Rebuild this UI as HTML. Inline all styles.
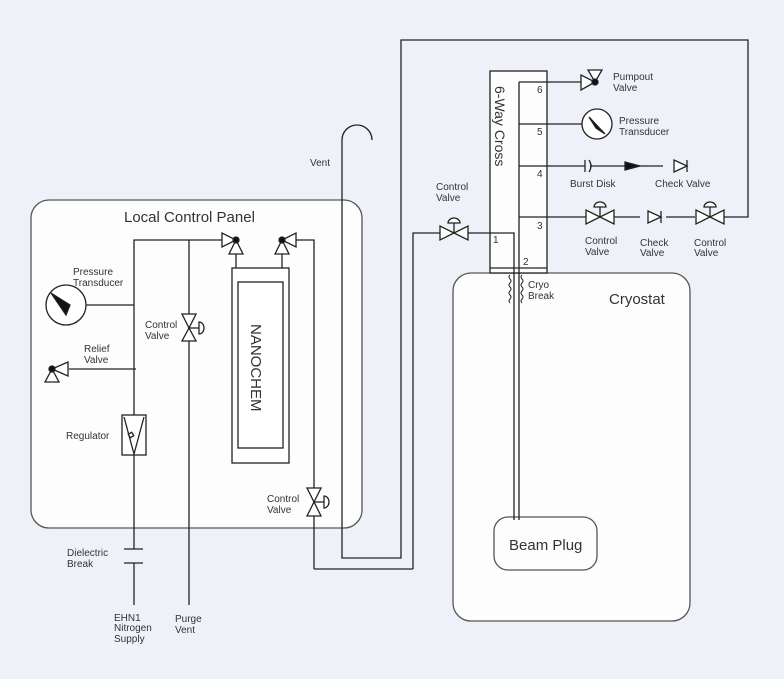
<!DOCTYPE html>
<html><head><style>
html,body{margin:0;padding:0;background:#eef2f8;}
svg{display:block;font-family:"Liberation Sans",sans-serif;}
text{fill:#333;font-size:10px;}
</style></head><body>
<svg width="784" height="679" viewBox="0 0 784 679" xmlns="http://www.w3.org/2000/svg">
<rect width="784" height="679" fill="#eef2f8"/>
<g stroke="#222" stroke-width="1.3" fill="none">
<!-- panels -->
<rect x="31" y="200" width="331" height="328" rx="18" fill="#fdfdfd" stroke="#555"/>
<rect x="453" y="273" width="237" height="348" rx="18" fill="#fdfdfd" stroke="#555"/>
<rect x="494" y="517" width="103" height="53" rx="14" fill="#fdfdfd" stroke="#555"/>
<!-- 6-way cross -->
<rect x="490" y="71" width="57" height="202" fill="#fdfdfd"/>
<line x1="519" y1="82" x2="519" y2="268"/>
<line x1="490" y1="268" x2="547" y2="268"/>
<line x1="519" y1="82" x2="582" y2="82"/>
<line x1="519" y1="124" x2="582" y2="124"/>
<line x1="519" y1="166" x2="585" y2="166"/>
<line x1="519" y1="217" x2="585" y2="217"/>
<!-- port1 -->
<polyline points="413,569 413,233 440,233"/>
<polyline points="468,233 514,233 514,520"/>
<line x1="519" y1="268" x2="519" y2="520"/>
<!-- cryo break coils -->
<path d="M510,275 q-2,2 0,4 q2,2 0,4 q-2,2 0,4 q2,2 0,4 q-2,2 0,4 q2,2 0,4 q-2,2 0,4" stroke-width="1"/>
<path d="M522,275 q-2,2 0,4 q2,2 0,4 q-2,2 0,4 q2,2 0,4 q-2,2 0,4 q2,2 0,4 q-2,2 0,4" stroke-width="1"/>
<!-- big loop -->
<polyline points="723,217 748,217 748,40 401,40 401,558 342,558 342,140"/>
<path d="M342,140 A15,15 0 0 1 372,140"/>
<polyline points="314,569 413,569"/>
<!-- port 6 pumpout valve -->
<polygon points="581,75 581,90 595,82" fill="#fff"/>
<polygon points="588,70 602,70 595,82" fill="#fff"/>
<circle cx="595" cy="82" r="3" fill="#111"/>
<!-- port 5 transducer -->
<circle cx="597" cy="124" r="15" fill="#fff"/>
<polygon points="589,117 605,134 596,128" fill="#111"/>
<!-- port 4 burst disk -->
<line x1="585" y1="160" x2="585" y2="172"/>
<path d="M589,160 q4,6 0,12"/>
<line x1="590" y1="166" x2="663" y2="166"/>
<polygon points="625,162 640,166 625,170" fill="#111"/>
<polygon points="674,160 674,172 687,166" fill="#fff"/>
<line x1="687" y1="160" x2="687" y2="172"/>
<!-- port 3 line -->
<line x1="585" y1="217" x2="640" y2="217"/>
<line x1="666" y1="217" x2="695" y2="217"/>
<g fill="#fff">
<polygon points="586,210 586,224 600,217"/><polygon points="614,210 614,224 600,217"/>
<line x1="600" y1="217" x2="600" y2="207"/><path d="M594,207 a6,5 0 0 1 12,0 z"/>
<polygon points="648,211 648,223 661,217"/>
<polygon points="696,210 696,224 710,217"/><polygon points="724,210 724,224 710,217"/>
<line x1="710" y1="217" x2="710" y2="207"/><path d="M704,207 a6,5 0 0 1 12,0 z"/>
<line x1="661" y1="211" x2="661" y2="223"/>
<!-- port1 control valve -->
<polygon points="440,226 440,240 454,233"/><polygon points="468,226 468,240 454,233"/>
<line x1="454" y1="233" x2="454" y2="223"/><path d="M448,223 a6,5 0 0 1 12,0 z"/>
</g>
<!-- left panel lines -->
<polyline points="134,415 134,240 222,240"/>
<line x1="134" y1="455" x2="134" y2="549"/>
<line x1="134" y1="563" x2="134" y2="605"/>
<line x1="124" y1="549" x2="143" y2="549"/>
<line x1="124" y1="563" x2="143" y2="563"/>
<line x1="189" y1="240" x2="189" y2="315"/>
<line x1="189" y1="341" x2="189" y2="605"/>
<line x1="86" y1="305" x2="134" y2="305"/>
<line x1="69" y1="369" x2="136" y2="369"/>
<polyline points="296,240 314,240 314,488"/>
<line x1="314" y1="516" x2="314" y2="569"/>
<g fill="#fff">
<circle cx="66" cy="305" r="20"/>
<polygon points="51,293 66,315 70,305" fill="#111"/>
<!-- relief -->
<polygon points="68,362 68,376 52,369"/>
<polygon points="45,382 59,382 52,369"/>
<circle cx="52" cy="369" r="3" fill="#111"/>
<!-- regulator -->
<rect x="122" y="415" width="24" height="40"/>
<polyline points="124,417 134,454 144,417" />
<rect x="129" y="433" width="4" height="4" transform="rotate(-30 131 435)"/>
<!-- control valve vertical -->
<polygon points="182,314 196,314 189,328"/><polygon points="182,341 196,341 189,328"/>
<line x1="189" y1="328" x2="199" y2="328"/><path d="M199,322 a5,6 0 0 1 0,12 z"/>
<polygon points="307,488 321,488 314,502"/><polygon points="307,516 321,516 314,502"/>
<line x1="314" y1="502" x2="324" y2="502"/><path d="M324,496 a5,6 0 0 1 0,12 z"/>
<!-- 3-way valves -->
<polygon points="222,233 222,247 236,240"/><polygon points="229,254 243,254 236,240"/>
<circle cx="236" cy="240" r="3" fill="#111"/>
<polygon points="296,233 296,247 282,240"/><polygon points="275,254 289,254 282,240"/>
<circle cx="282" cy="240" r="3" fill="#111"/>
<line x1="236" y1="254" x2="236" y2="268"/><line x1="282" y1="254" x2="282" y2="268"/>
<rect x="232" y="268" width="57" height="195"/>
<rect x="238" y="282" width="45" height="166"/>
</g>
</g>
<!-- text -->
<text x="124" y="222" style="font-size:15px">Local Control Panel</text>
<text x="609" y="304" style="font-size:15px">Cryostat</text>
<text x="509" y="550" style="font-size:15px">Beam Plug</text>
<text transform="translate(495,86) rotate(90)" style="font-size:14px">6-Way Cross</text>
<text transform="translate(251,324) rotate(90)" style="font-size:15px">NANOCHEM</text>
<text x="537" y="93">6</text><text x="537" y="135">5</text><text x="537" y="177">4</text><text x="537" y="229">3</text>
<text x="493" y="243">1</text><text x="523" y="265">2</text>
<text x="613" y="80">Pumpout</text><text x="613" y="91">Valve</text>
<text x="619" y="124">Pressure</text><text x="619" y="135">Transducer</text>
<text x="570" y="187">Burst Disk</text><text x="655" y="187">Check Valve</text>
<text x="585" y="244">Control</text><text x="585" y="255">Valve</text>
<text x="640" y="246">Check</text><text x="640" y="256">Valve</text>
<text x="694" y="246">Control</text><text x="694" y="256">Valve</text>
<text x="436" y="190">Control</text><text x="436" y="201">Valve</text>
<text x="528" y="288">Cryo</text><text x="528" y="299">Break</text>
<text x="310" y="166">Vent</text>
<text x="73" y="275">Pressure</text><text x="73" y="286">Transducer</text>
<text x="84" y="352">Relief</text><text x="84" y="363">Valve</text>
<text x="145" y="328">Control</text><text x="145" y="339">Valve</text>
<text x="66" y="439">Regulator</text>
<text x="267" y="502">Control</text><text x="267" y="513">Valve</text>
<text x="67" y="556">Dielectric</text><text x="67" y="567">Break</text>
<text x="114" y="621">EHN1</text><text x="114" y="631">Nitrogen</text><text x="114" y="642">Supply</text>
<text x="175" y="622">Purge</text><text x="175" y="633">Vent</text>
</svg>
</body></html>
